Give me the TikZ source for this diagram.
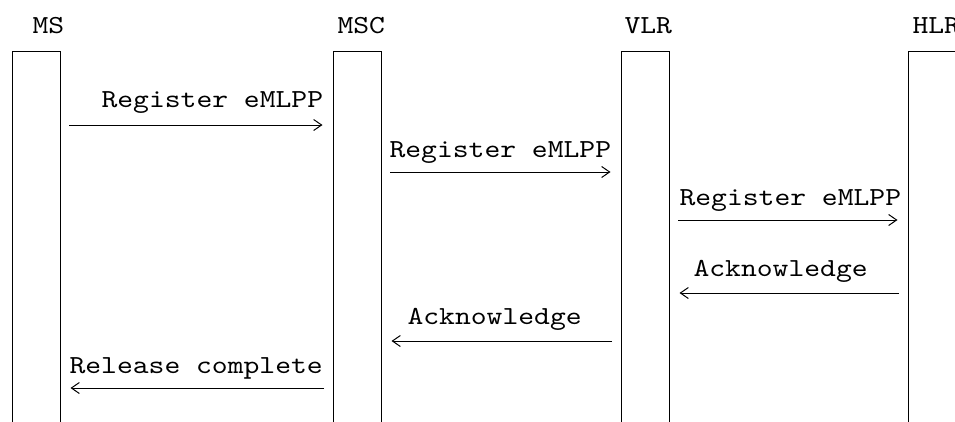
\documentclass[tikz,border=0pt]{standalone}
\usepackage{fontspec}
\setmonofont[FakeStretch=1.16]{lmmono10-regular.otf}
\usetikzlibrary{arrows.meta}

\tikzset{every picture/.style={line width=1pt}}
\tikzset{
    lifebox/.style={draw, rectangle, anchor=north, minimum width=48pt, minimum height=420pt, inner sep=0pt},
    msglbl/.style={anchor=base west, inner sep=0pt, font=\fontsize{26}{30}\selectfont\ttfamily},
    msg/.style={-{Straight Barb[length=8pt,width=11pt]}, shorten <=8.5pt, shorten >=10pt}
}

\begin{document}
\begin{tikzpicture}[x=1pt,y=1pt,yscale=-1]
    \useasboundingbox (0,0) rectangle (955,421);
    \clip (0,0) rectangle (955,421);

    %Shape: Lifelines
    \node [lifebox] (ms) at (36,51) {};
    \node [lifebox] (msc) at (357,51) {};
    \node [lifebox] (vlr) at (645,51) {};
    \node [lifebox] (hlr) at (932,51) {};

    % Text Node
    \node [msglbl] (lblms) at (32,33) {MS};
    % Text Node
    \node [msglbl] (lblmsc) at (337,33) {MSC};
    % Text Node
    \node [msglbl] (lblvlr) at (624,33) {VLR};
    % Text Node
    \node [msglbl] (lblhlr) at (912,33) {HLR};

    %message rows
    \coordinate (rowa) at (0,125);
    \coordinate (rowb) at (0,172);
    \coordinate (rowc) at (0,220);
    \coordinate (rowd) at (0,293);
    \coordinate (rowe) at (0,341);
    \coordinate (rowf) at (0,388);

    %Straight Lines
    \draw [msg] (ms.east |- rowa) -- (msc.west |- rowa);
    \draw [msg] (msc.east |- rowb) -- (vlr.west |- rowb);
    \draw [msg] (vlr.east |- rowc) -- (hlr.west |- rowc);
    \draw [msg] (hlr.west |- rowd) -- (vlr.east |- rowd);
    \draw [msg] (vlr.west |- rowe) -- (msc.east |- rowe);
    \draw [msg] (msc.west |- rowf) -- (ms.east |- rowf);

    % Text Node
    \node [msglbl] (regms) at (101,107) {Register eMLPP};
    % Text Node
    \node [msglbl] (regmsc) at (389,157) {Register eMLPP};
    % Text Node
    \node [msglbl] (regvlr) at (679,205) {Register eMLPP};
    % Text Node
    \node [msglbl] (ackhlr) at (693,276) {Acknowledge};
    % Text Node
    \node [msglbl] (ackvlr) at (407,324) {Acknowledge};
    % Text Node
    \node [msglbl] (relmsc) at (69,373) {Release complete};

\end{tikzpicture}
\end{document}
